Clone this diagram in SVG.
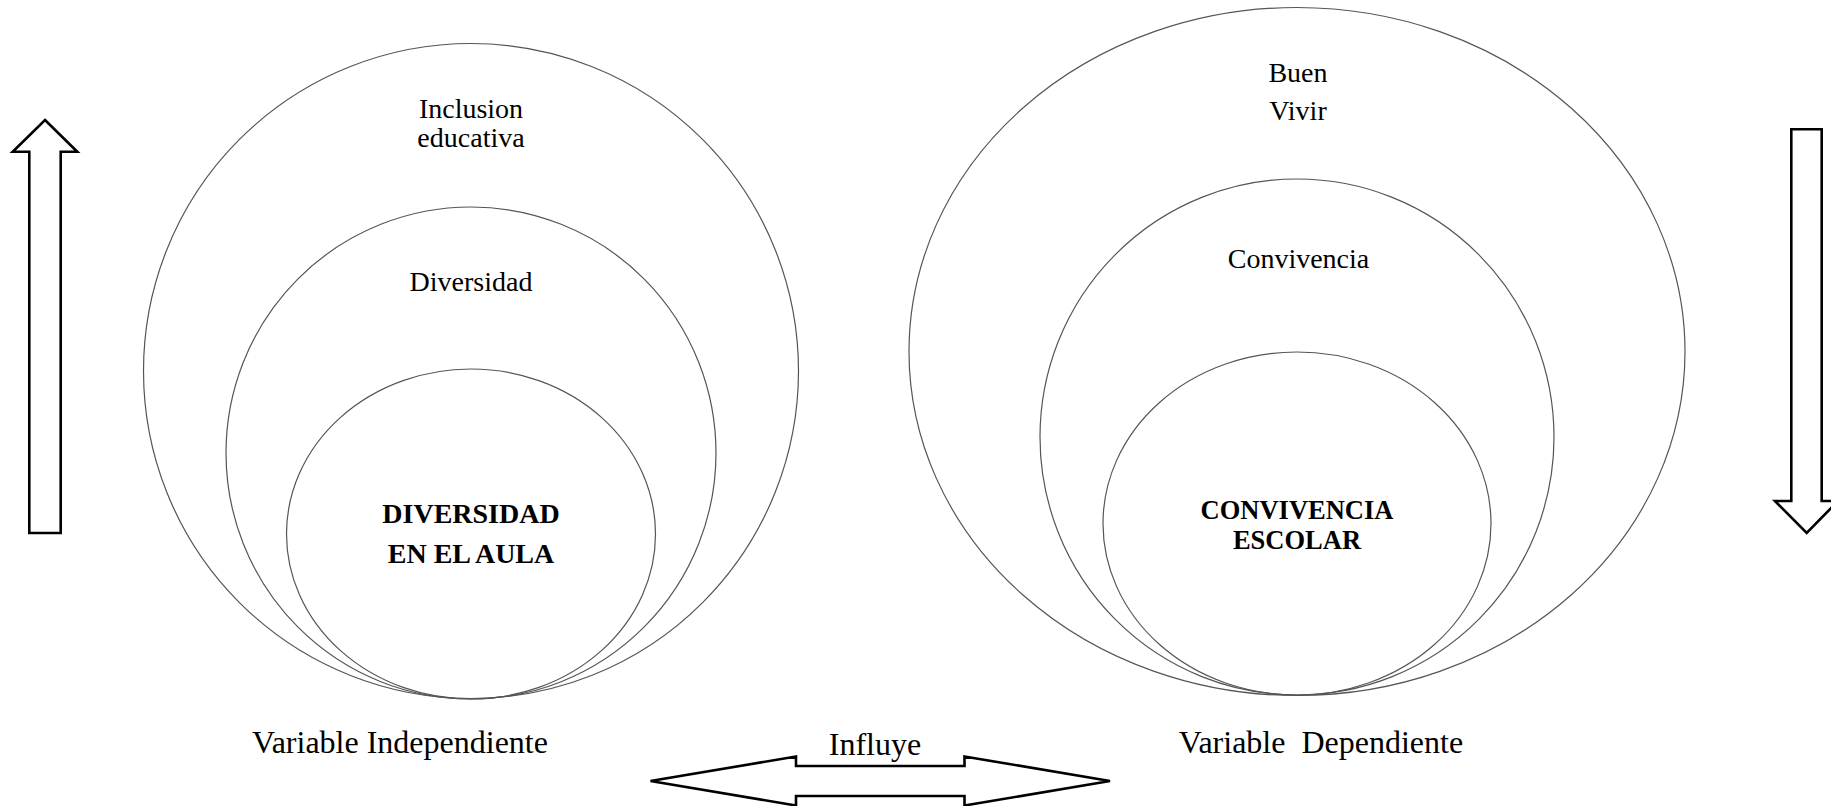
<svg xmlns="http://www.w3.org/2000/svg" width="1831" height="806" viewBox="0 0 1831 806">
<style>
.c{fill:none;stroke:#555;stroke-width:1.2}
.a{fill:#fff;stroke:#000;stroke-width:2.6;stroke-linejoin:miter}
text{font-family:"Liberation Serif","Times New Roman",serif;fill:#000;text-anchor:middle}
.t{font-size:28px}
.b{font-size:28px;font-weight:bold}
.l{font-size:32px}
</style>
<rect width="1831" height="806" fill="#fff"/>
<g id="inclusion-educativa">
<circle class="c" cx="471" cy="371" r="327.5"/>
<text class="t" x="471" y="118">Inclusion</text>
<text class="t" x="471" y="147">educativa</text>
</g>
<g id="diversidad">
<ellipse class="c" cx="471" cy="453" rx="245" ry="246"/>
<text class="t" x="471" y="291">Diversidad</text>
</g>
<g id="diversidad-aula">
<ellipse class="c" cx="471" cy="534" rx="184.5" ry="165"/>
<text class="b" x="471" y="523">DIVERSIDAD</text>
<text class="b" x="471" y="563">EN EL AULA</text>
</g>
<g id="buen-vivir">
<ellipse class="c" cx="1297" cy="351.5" rx="388" ry="344"/>
<text class="t" x="1298" y="82">Buen</text>
<text class="t" x="1298" y="120">Vivir</text>
</g>
<g id="convivencia">
<ellipse class="c" cx="1297" cy="437" rx="257" ry="258"/>
<text class="t" x="1298.5" y="268">Convivencia</text>
</g>
<g id="convivencia-escolar">
<ellipse class="c" cx="1297" cy="523.5" rx="194" ry="171.5"/>
<text class="b" x="1297" y="519" style="font-size:26.5px">CONVIVENCIA</text>
<text class="b" x="1297" y="549" style="font-size:26.5px">ESCOLAR</text>
</g>
<g id="labels">
<text class="l" x="400" y="753">Variable Independiente</text>
<text class="l" x="1321" y="753" xml:space="preserve">Variable  Dependiente</text>
<text class="l" x="875" y="755">Influye</text>
</g>
<g id="connectors">
<polygon class="a" points="45,120 77.3,151.7 60.7,151.7 60.7,533 29.3,533 29.3,151.7 12.7,151.7"/>
<polygon class="a" points="1791.3,129.3 1821.7,129.3 1821.7,501 1838,501 1806.7,533 1775,501 1791.3,501"/>
<polygon class="a" points="650.5,781 796,756.5 796,766 964.5,766 964.5,756.5 1110,781 964.5,805.5 964.5,796 796,796 796,805.5"/>
</g>
</svg>
